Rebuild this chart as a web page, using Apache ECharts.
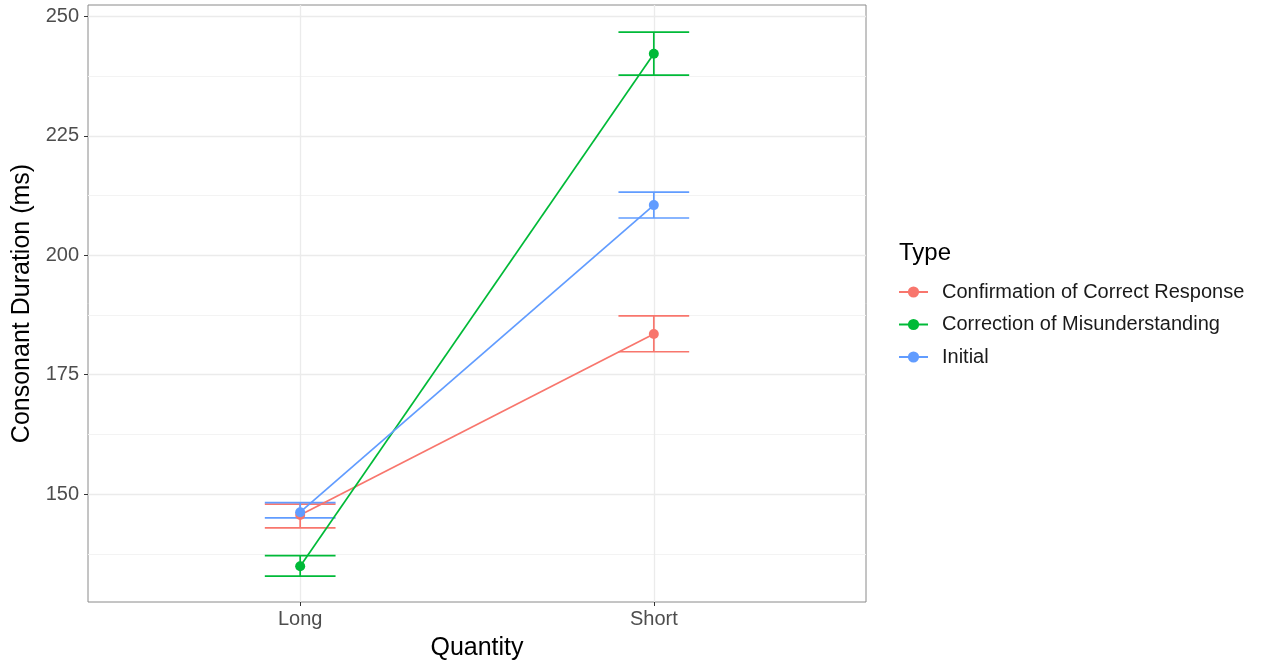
<!DOCTYPE html>
<html>
<head>
<meta charset="utf-8">
<script src="https://cdn.jsdelivr.net/npm/echarts@6/dist/echarts.min.js"></script>
<style>
  html, body { margin: 0; padding: 0; background: #fff; }
  #chart { width: 1266px; height: 663px; }
</style>
</head>
<body>
<div id="chart"></div>
<script>
// Consonant duration by quantity and utterance type (mean with error bars)
const categories = ['Long', 'Short'];
const types = ['Confirmation of Correct Response', 'Correction of Misunderstanding', 'Initial'];
const colors = ['#F8766D', '#00BA38', '#619CFF'];

const confMean  = [145.6, 183.5];
const confLower = [142.9, 179.8];
const confUpper = [147.9, 187.3];

const corrMean  = [134.9, 242.2];
const corrLower = [132.8, 237.7];
const corrUpper = [137.1, 246.7];

const initMean  = [146.2, 210.5];
const initLower = [145.0, 207.8];
const initUpper = [148.2, 213.2];

const yTicks = [150, 175, 200, 225, 250];
const yMinor = [137.5, 162.5, 187.5, 212.5, 237.5];

const means  = [confMean, corrMean, initMean];
const lowers = [confLower, corrLower, initLower];
const uppers = [confUpper, corrUpper, initUpper];

const font = 'Liberation Sans, Arial, Helvetica, sans-serif';
const capHalf = 0.1; // half the error bar cap width, in category units

const series = [];

// Means joined by lines (listed first so the legend takes their icons)
types.forEach((t, k) => {
  series.push({
    type: 'line',
    name: t,
    z: 4,
    color: colors[k],
    symbol: 'circle',
    symbolSize: 10,
    lineStyle: { width: 1.7, color: colors[k] },
    itemStyle: { color: colors[k] },
    data: categories.map((c, i) => [i + 1, means[k][i]])
  });
});

// Error bars
types.forEach((t, k) => {
  series.push({
    type: 'custom',
    name: t,
    z: 3,
    silent: true,
    itemStyle: { color: colors[k] },
    renderItem: function (params, api) {
      const x = api.value(0);
      const lo = api.value(1);
      const hi = api.value(2);
      const pTop = api.coord([x, hi]);
      const pBot = api.coord([x, lo]);
      const tl = api.coord([x - capHalf, hi]);
      const tr = api.coord([x + capHalf, hi]);
      const bl = api.coord([x - capHalf, lo]);
      const br = api.coord([x + capHalf, lo]);
      const style = { stroke: colors[k], lineWidth: 1.7 };
      return {
        type: 'group',
        children: [
          { type: 'line', shape: { x1: pTop[0], y1: pTop[1], x2: pBot[0], y2: pBot[1] }, style },
          { type: 'line', shape: { x1: tl[0], y1: tl[1], x2: tr[0], y2: tr[1] }, style },
          { type: 'line', shape: { x1: bl[0], y1: bl[1], x2: br[0], y2: br[1] }, style }
        ]
      };
    },
    data: categories.map((c, i) => [i + 1, lowers[k][i], uppers[k][i]])
  });
});

// Panel grid lines
series.push({
  type: 'scatter',
  name: 'grid',
  data: [],
  silent: true,
  z: 0,
  markLine: {
    silent: true,
    z: 1,
    symbol: 'none',
    label: { show: false },
    animation: false,
    data: [
      ...yMinor.map(v => ({ yAxis: v, lineStyle: { color: '#f3f3f3', width: 1, type: 'solid' } })),
      ...yTicks.map(v => ({ yAxis: v, lineStyle: { color: '#ebebeb', width: 1.3, type: 'solid' } })),
      ...categories.map((c, i) => ({ xAxis: i + 1, lineStyle: { color: '#ebebeb', width: 1.3, type: 'solid' } }))
    ]
  }
});

const chart = echarts.init(document.getElementById('chart'), null, { renderer: 'canvas' });
chart.setOption({
  animation: false,
  backgroundColor: '#ffffff',
  title: {
    text: 'Type',
    left: 899,
    top: 241,
    padding: 0,
    textStyle: { fontFamily: font, fontSize: 24, fontWeight: 'normal', color: '#000' }
  },
  legend: {
    orient: 'vertical',
    left: 893,
    top: 277,
    itemWidth: 29,
    itemHeight: 14,
    itemGap: 12.5,
    data: types,
    formatter: name => '{t|' + name + '}',
    textStyle: {
      fontFamily: font, fontSize: 20, color: '#1a1a1a',
      rich: { t: { fontFamily: font, fontSize: 20, color: '#1a1a1a', padding: [0, 0, 0, 9] } }
    }
  },
  grid: {
    left: 88, right: 400, top: 5, bottom: 61,
    outerBoundsMode: 'none',
    containLabel: false,
    show: true,
    borderColor: '#8a8a8a',
    borderWidth: 1,
    backgroundColor: 'transparent'
  },
  xAxis: {
    type: 'value',
    min: 0.4,
    max: 2.6,
    name: 'Quantity',
    nameLocation: 'middle',
    nameGap: 34,
    nameTextStyle: { fontFamily: font, fontSize: 25, color: '#000' },
    axisLine: { show: false },
    splitLine: { show: false },
    axisTick: { show: true, customValues: [1, 2], length: 4, lineStyle: { color: '#333' } },
    axisLabel: {
      customValues: [1, 2],
      fontFamily: font, fontSize: 20, color: '#4d4d4d', margin: 7,
      formatter: v => categories[Math.round(v) - 1] || ''
    }
  },
  yAxis: {
    type: 'value',
    min: 127.4,
    max: 252.4,
    name: 'Consonant Duration (ms)',
    nameLocation: 'middle',
    nameGap: 52,
    nameTextStyle: { fontFamily: font, fontSize: 25, color: '#000' },
    axisLine: { show: false },
    splitLine: { show: false },
    axisTick: { show: true, customValues: yTicks, length: 4, lineStyle: { color: '#333' } },
    axisLabel: {
      customValues: yTicks,
      fontFamily: font, fontSize: 20, color: '#4d4d4d', margin: 9
    }
  },
  series: series
});
</script>
</body>
</html>
